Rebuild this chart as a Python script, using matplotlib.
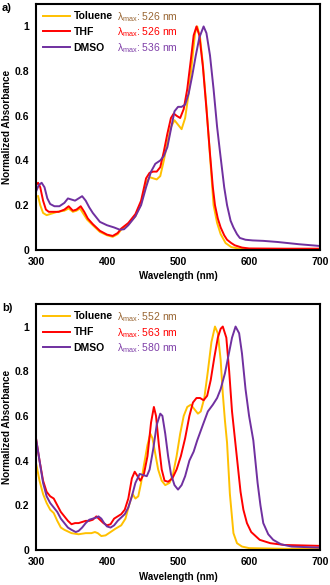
import numpy as np
import matplotlib
matplotlib.use("Agg")
import matplotlib.pyplot as plt

plt.rcParams["font.family"] = ["Liberation Sans", "DejaVu Sans"]
plt.rcParams["mathtext.fontset"] = "custom"
plt.rcParams["mathtext.rm"] = "Liberation Sans"
plt.rcParams["mathtext.it"] = "Liberation Sans"

SOLVENTS = ["Toluene", "THF", "DMSO"]
COLORS = ["#FFC000", "#FF0000", "#7030A0"]
LAMBDA_COLORS = ["#996633", "#FF0000", "#7F3FA8"]

# ---- panel a ----
a_tol_wl = [303, 306, 310, 315, 320, 330, 340, 346, 352, 357, 362, 367, 372, 380, 390, 400, 408, 415, 420, 430,
            440, 448, 455, 460, 465, 470, 475, 480, 485, 490, 495, 500, 505, 510, 515, 520, 524, 527, 531, 535,
            540, 545, 550, 555, 560, 567, 575, 585, 600, 650, 700]
a_tol = [0.24, 0.20, 0.165, 0.155, 0.16, 0.17, 0.175, 0.185, 0.17, 0.175, 0.185, 0.16, 0.135, 0.11, 0.08, 0.065,
         0.058, 0.07, 0.09, 0.115, 0.15, 0.21, 0.30, 0.325, 0.32, 0.315, 0.33, 0.40, 0.48, 0.55, 0.58, 0.56, 0.54,
         0.59, 0.70, 0.85, 0.97, 1.0, 0.95, 0.83, 0.64, 0.42, 0.20, 0.12, 0.07, 0.03, 0.012, 0.006, 0.004, 0.003,
         0.003]
a_thf_wl = [300, 303, 306, 310, 314, 318, 325, 332, 340, 346, 352, 357, 363, 368, 373, 380, 390, 400, 408, 415,
            420, 430, 440, 448, 455, 460, 465, 470, 475, 480, 485, 490, 494, 498, 503, 508, 513, 518, 522, 526,
            530, 535, 540, 545, 549, 552, 556, 560, 565, 569, 575, 580, 590, 600, 650, 700]
a_thf = [0.29, 0.30, 0.28, 0.22, 0.18, 0.17, 0.17, 0.17, 0.18, 0.195, 0.175, 0.18, 0.195, 0.17, 0.14, 0.115,
         0.085, 0.068, 0.062, 0.075, 0.095, 0.12, 0.16, 0.22, 0.32, 0.345, 0.35, 0.35, 0.37, 0.44, 0.52, 0.59,
         0.61, 0.60, 0.59, 0.63, 0.72, 0.85, 0.96, 1.0, 0.96, 0.82, 0.63, 0.43, 0.28, 0.20, 0.14, 0.10, 0.065,
         0.045, 0.03, 0.02, 0.01, 0.006, 0.005, 0.005]
a_dmso_wl = [300, 304, 308, 312, 316, 320, 326, 333, 340, 345, 350, 355, 360, 365, 370, 375, 380, 390, 400, 410,
             418, 424, 430, 440, 448, 455, 462, 468, 475, 480, 485, 490, 495, 500, 505, 510, 515, 520, 525, 530,
             536, 540, 545, 550, 555, 559, 565, 569, 574, 578, 583, 587, 595, 605, 620, 640, 670, 700]
a_dmso = [0.26, 0.29, 0.30, 0.28, 0.23, 0.205, 0.195, 0.195, 0.21, 0.23, 0.225, 0.22, 0.23, 0.24, 0.22, 0.19,
          0.165, 0.125, 0.11, 0.10, 0.09, 0.092, 0.11, 0.15, 0.20, 0.28, 0.35, 0.385, 0.40, 0.42, 0.46, 0.54, 0.62,
          0.64, 0.64, 0.65, 0.70, 0.78, 0.87, 0.95, 1.0, 0.97, 0.87, 0.72, 0.55, 0.44, 0.28, 0.20, 0.13, 0.10,
          0.07, 0.053, 0.045, 0.042, 0.04, 0.035, 0.025, 0.017]
a_lmax = [526, 526, 536]

# ---- panel b ----
b_tol_wl = [300, 305, 310, 315, 320, 325, 330, 335, 340, 350, 360, 370, 378, 383, 387, 392, 398, 405, 412, 420,
            426, 431, 436, 440, 444, 448, 452, 457, 461, 464, 468, 472, 477, 482, 488, 493, 498, 503, 508, 513,
            518, 523, 528, 532, 537, 542, 547, 552, 556, 560, 563, 566, 569, 573, 578, 583, 590, 600, 650, 700]
b_tol = [0.39, 0.31, 0.25, 0.21, 0.18, 0.165, 0.13, 0.10, 0.09, 0.075, 0.07, 0.075, 0.075, 0.08, 0.075, 0.062,
         0.065, 0.08, 0.095, 0.11, 0.14, 0.20, 0.25, 0.23, 0.24, 0.30, 0.38, 0.47, 0.52, 0.50, 0.43, 0.36, 0.31,
         0.29, 0.30, 0.34, 0.42, 0.52, 0.60, 0.64, 0.65, 0.63, 0.61, 0.62, 0.68, 0.80, 0.93, 1.0, 0.97, 0.85,
         0.70, 0.58, 0.48, 0.25, 0.075, 0.03, 0.015, 0.008, 0.005, 0.005]
b_thf_wl = [300, 305, 310, 315, 320, 325, 330, 335, 340, 345, 350, 355, 360, 365, 370, 375, 380, 385, 390, 395,
            400, 405, 410, 415, 420, 425, 430, 435, 439, 443, 447, 452, 457, 462, 466, 469, 473, 477, 481, 486,
            492, 498, 504, 510, 516, 521, 526, 531, 536, 541, 546, 551, 556, 560, 563, 568, 572, 576, 580, 584,
            588, 592, 597, 603, 615, 630, 650, 700]
b_thf = [0.50, 0.40, 0.31, 0.26, 0.24, 0.23, 0.20, 0.17, 0.15, 0.13, 0.115, 0.12, 0.12, 0.125, 0.13, 0.13, 0.135,
         0.15, 0.135, 0.12, 0.11, 0.115, 0.14, 0.15, 0.16, 0.18, 0.23, 0.32, 0.35, 0.33, 0.31, 0.34, 0.42, 0.57,
         0.64, 0.60, 0.47, 0.36, 0.31, 0.305, 0.32, 0.36, 0.42, 0.50, 0.60, 0.66, 0.68, 0.68, 0.67, 0.69, 0.76,
         0.86, 0.95, 0.99, 1.0, 0.95, 0.80, 0.62, 0.50, 0.38, 0.26, 0.18, 0.12, 0.08, 0.045, 0.03, 0.022, 0.018]
b_dmso_wl = [300, 305, 310, 315, 320, 325, 330, 335, 340, 345, 350, 356, 360, 365, 370, 375, 380, 385, 388, 392,
             396, 400, 405, 410, 415, 420, 425, 430, 435, 440, 446, 451, 456, 460, 465, 470, 475, 478, 482, 486,
             490, 495, 500, 505, 510, 516, 522, 527, 535, 542, 549, 555, 560, 566, 571, 576, 581, 586, 590, 595,
             600, 606, 612, 616, 620, 627, 634, 645, 660, 700]
b_dmso = [0.50, 0.40, 0.30, 0.24, 0.21, 0.19, 0.17, 0.14, 0.12, 0.10, 0.09, 0.08, 0.085, 0.10, 0.12, 0.135, 0.14,
          0.145, 0.15, 0.14, 0.12, 0.105, 0.10, 0.11, 0.13, 0.145, 0.16, 0.19, 0.24, 0.30, 0.34, 0.335, 0.33,
          0.36, 0.45, 0.56, 0.61, 0.60, 0.52, 0.42, 0.34, 0.29, 0.27, 0.29, 0.33, 0.40, 0.44, 0.49, 0.56, 0.62,
          0.65, 0.68, 0.72, 0.79, 0.87, 0.95, 1.0, 0.97, 0.88, 0.72, 0.60, 0.49, 0.30, 0.20, 0.12, 0.07, 0.045,
          0.025, 0.015, 0.01]
b_lmax = [552, 563, 580]

panels = [
    ("a)", [(a_tol_wl, a_tol), (a_thf_wl, a_thf), (a_dmso_wl, a_dmso)], a_lmax),
    ("b)", [(b_tol_wl, b_tol), (b_thf_wl, b_thf), (b_dmso_wl, b_dmso)], b_lmax),
]

fig = plt.figure(figsize=(3.3, 5.85), dpi=100)
boxes = [[0.109, 0.573, 0.861, 0.420], [0.109, 0.060, 0.861, 0.420]]

for (tag, series, lmax), box in zip(panels, boxes):
    ax = fig.add_axes(box)
    for (wl, val), name, col in zip(series, SOLVENTS, COLORS):
        ax.plot(wl, val, color=col, lw=1.4, label=name)
    ax.set_xlim(300, 700)
    ax.set_ylim(0, 1.1)
    ax.set_xticks([300, 400, 500, 600, 700])
    ax.set_yticks([0, 0.2, 0.4, 0.6, 0.8, 1])
    ax.set_yticklabels(["0", "0.2", "0.4", "0.6", "0.8", "1"])
    ax.tick_params(length=0, labelsize=7.5, pad=5)
    for lab in ax.get_xticklabels() + ax.get_yticklabels():
        lab.set_fontweight("bold")
    for sp in ax.spines.values():
        sp.set_linewidth(1.5)
    ax.set_xlabel("Wavelength (nm)", fontsize=7, fontweight="bold")
    ax.set_ylabel("Normalized Absorbance", fontsize=7.2, fontweight="bold")
    ax.xaxis.set_label_coords(0.5, -0.088)
    ax.yaxis.set_label_coords(-0.085, 0.5)

    ax.legend(loc="upper left", bbox_to_anchor=(0.0, 1.0), frameon=False,
              prop={"weight": "bold", "size": 7.5}, handlelength=2.6,
              handletextpad=0.3, labelspacing=0.55, borderaxespad=0.3)
    for i, (lm, lc) in enumerate(zip(lmax, LAMBDA_COLORS)):
        ax.text(0.285, 0.947 - i * 0.063, r"$\lambda_{\mathrm{max}}$: " + f"{lm} nm",
                transform=ax.transAxes, color=lc, fontsize=7.5, va="center", ha="left")

    fig.text(0.006, box[1] + box[3] + 0.002, tag, fontsize=8, fontweight="bold", va="top", ha="left")

fig.savefig("out.png", dpi=100)
